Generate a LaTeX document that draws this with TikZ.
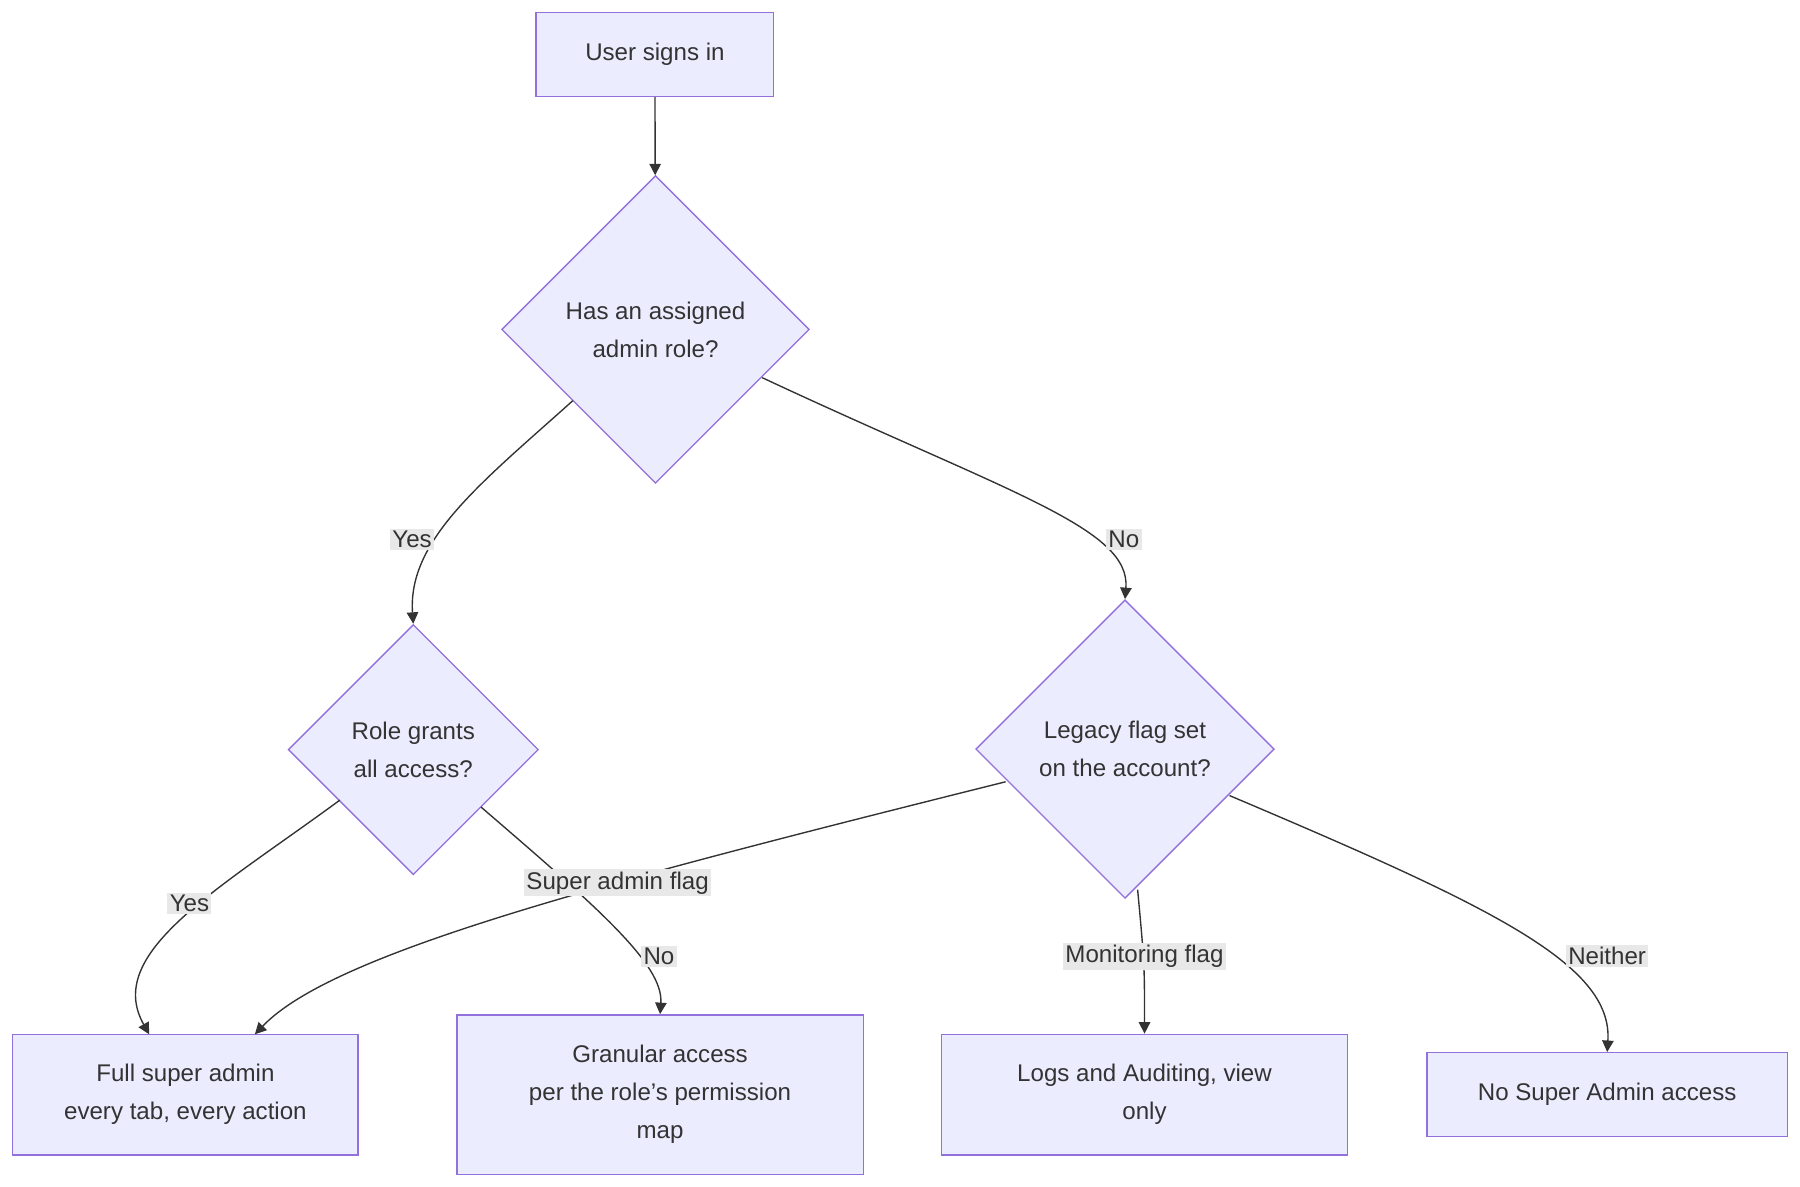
\documentclass[tikz,border=0pt]{standalone}
\usepackage{fontspec}
\setmainfont{Liberation Sans}
\usetikzlibrary{shapes.geometric,arrows.meta,calc}
\definecolor{nf}{HTML}{ECECFF}
\definecolor{ns}{HTML}{9370DB}
\definecolor{tx}{HTML}{333333}
\definecolor{lb}{HTML}{E8E8E8}
\begin{document}
\begin{tikzpicture}[x=0.5pt,y=-0.5pt,
  every node/.style={font=\fontsize{10.5}{16.5}\selectfont,text=tx,align=center},
  box/.style={draw=ns,fill=nf,line width=0.6pt,inner sep=0},
  dia/.style={diamond,draw=ns,fill=nf,line width=0.6pt,inner sep=0,aspect=1},
  lab/.style={fill=lb,inner sep=1pt},
  e/.style={draw=tx,line width=0.6pt,-{Triangle[length=5pt,width=5pt]}}]
\useasboundingbox (0,0) rectangle (1568,1034);
\node[box,minimum width=103.5pt,minimum height=36.5pt] (s) at (570.5,47.5) {User signs in};
\node[dia,minimum width=134pt,minimum height=134pt] (d1) at (571,287) {Has an assigned\\admin role?};
\node[dia,minimum width=109pt,minimum height=109pt] (d2) at (360,653) {Role grants\\all access?};
\node[dia,minimum width=130pt,minimum height=130pt] (d3) at (980,652.5) {Legacy flag set\\on the account?};
\node[box,minimum width=150.5pt,minimum height=52.5pt] (r1) at (161.5,953.5) {Full super admin\\every tab, every action};
\node[box,minimum width=177pt,minimum height=69.5pt] (r2) at (575,953.5) {Granular access\\per the role's permission\\map};
\node[box,minimum width=177pt,minimum height=52.5pt] (r3) at (997,953.5) {Logs and Auditing, view\\only};
\node[box,minimum width=157pt,minimum height=36.5pt] (r4) at (1400,953.5) {No Super Admin access};
\draw[e] (s) -- (d1);
\coordinate (a1) at (499,349);
\coordinate (a2) at (664,329);
\coordinate (a3) at (296,697);
\coordinate (a4) at (419,703);
\coordinate (a5) at (876,681);
\coordinate (a6) at (991,775);
\coordinate (a7) at (1071,693);
\coordinate (b1) at (222,901);
\coordinate (b2) at (130,901);
\draw[e] (a1) .. controls (420,420) and (355,470) .. (d2.north);
\draw[e] (a2) .. controls (880,430) and (985,460) .. (d3.north);
\draw[e] (a3) .. controls (190,775) and (90,830) .. (b2);
\draw[e] (a4) .. controls (520,790) and (578,840) .. (r2.north);
\draw[e] (a5) .. controls (520,770) and (290,830) .. (b1);
\draw[e] (a6) .. controls (997,840) .. (r3.north);
\draw[e] (a7) .. controls (1300,790) and (1405,840) .. (r4.north);
\node[lab] (l1) at (359,470) {Yes};
\node[lab] (l2) at (979,470) {No};
\node[lab] (l3) at (165,787) {Yes};
\node[lab] (l4) at (574,833) {No};
\node[lab] (l5) at (538,769) {Super admin flag};
\node[lab] (l6) at (997,833) {Monitoring flag};
\node[lab] (l7) at (1400,833) {Neither};
\end{tikzpicture}
\end{document}
